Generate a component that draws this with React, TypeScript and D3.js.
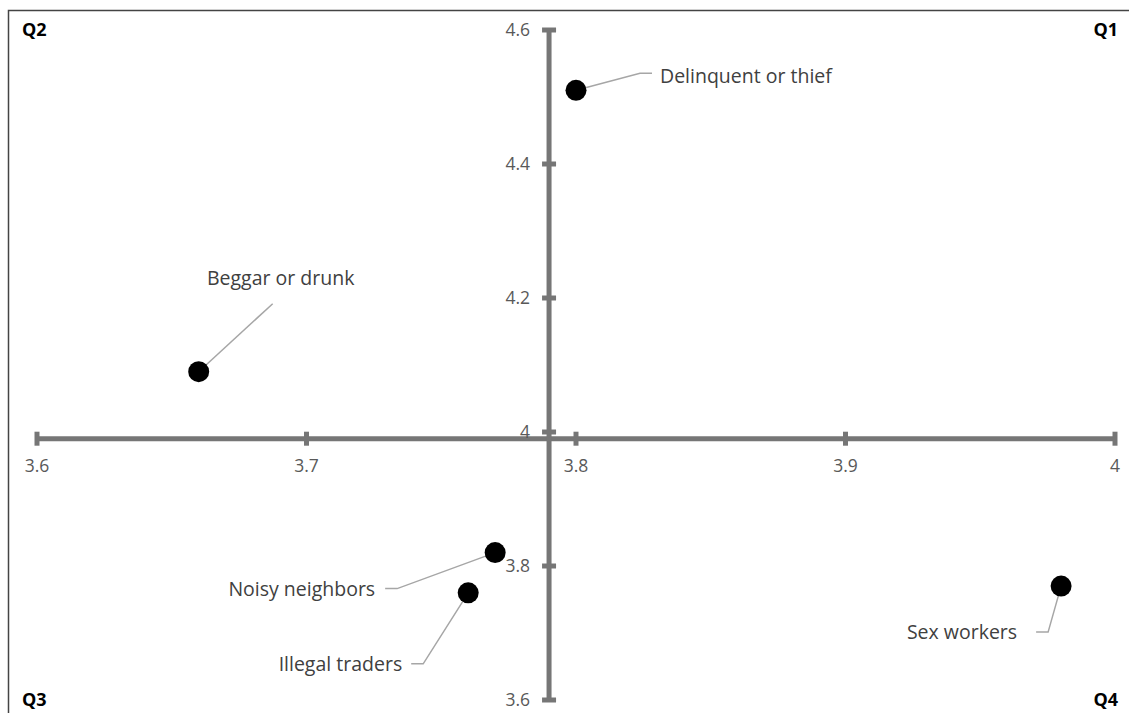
import React from "react";
import * as d3 from "d3";

// ---- data ----
const groups = ["Delinquent or thief", "Beggar or drunk", "Noisy neighbors", "Illegal traders", "Sex workers"];
const xValues = [3.8, 3.66, 3.77, 3.76, 3.98];
const yValues = [4.51, 4.09, 3.82, 3.76, 3.77];
const xTicks = [3.6, 3.7, 3.8, 3.9, 4.0];
const yTicks = [3.6, 3.8, 4.0, 4.2, 4.4, 4.6];
const xCross = 3.79; // vertical axis crosses here
const yCross = 3.99; // horizontal axis crosses here
const quadrants = ["Q1", "Q2", "Q3", "Q4"];

// ---- label layout (pixel offsets from the point) ----
// lx,ly: label anchor; ex,ey: elbow of leader; sx: stub end x
const labelLayout = [
  { lx: 84, ly: -14, anchor: "start", ex: 64, ey: -17, sx: 76 },
  { lx: 82, ly: -94, anchor: "middle", ex: 74, ey: -68, sx: 74 },
  { lx: -120, ly: 36, anchor: "end", ex: -98, ey: 36, sx: -110 },
  { lx: -66, ly: 71, anchor: "end", ex: -45, ey: 71, sx: -57 },
  { lx: -44, ly: 46, anchor: "end", ex: -13, ey: 46, sx: -25 },
];

const W = 1129;
const H = 713;
const axisColor = "#767676";
const font = "'Open Sans', 'Noto Sans', sans-serif";

export default function App() {
  const x = d3.scaleLinear().domain([3.6, 4.0]).range([37, 1115]);
  const y = d3.scaleLinear().domain([3.6, 4.6]).range([700, 30]);
  const ax = x(xCross);
  const ay = y(yCross);
  const fmt = d3.format("");
  const tl = (v: number) => fmt(+v.toFixed(1));

  const pts = groups.map((g, i) => ({ g, cx: x(xValues[i]), cy: y(yValues[i]), L: labelLayout[i] }));

  return (
    <svg
      width={W}
      height={H}
      style={{ position: "absolute", left: 0, top: 0, background: "#fff" }}
      fontFamily={font}
    >
      <rect x={8.5} y={10.5} width={1200} height={800} fill="#fff" stroke="#444" strokeWidth={1.5} />

      {/* horizontal axis */}
      <line x1={x(3.6)} x2={x(4.0)} y1={ay} y2={ay} stroke={axisColor} strokeWidth={5} />
      {xTicks.map((t) => (
        <g key={"xt" + t}>
          <line x1={x(t)} x2={x(t)} y1={ay - 7} y2={ay + 7} stroke={axisColor} strokeWidth={5} />
          <text x={x(t)} y={ay + 33} textAnchor="middle" fontSize={17.5} fill="#595959">
            {tl(t)}
          </text>
        </g>
      ))}

      {/* vertical axis */}
      <line x1={ax} x2={ax} y1={y(4.6)} y2={y(3.6)} stroke={axisColor} strokeWidth={5} />
      {yTicks.map((t) => (
        <g key={"yt" + t}>
          <line x1={ax - 7} x2={ax + 7} y1={y(t)} y2={y(t)} stroke={axisColor} strokeWidth={5} />
          <text x={ax - 19} y={y(t) + 6} textAnchor="end" fontSize={17.5} fill="#595959">
            {tl(t)}
          </text>
        </g>
      ))}

      {/* leader lines */}
      {pts.map((p) => (
        <polyline
          key={"ll" + p.g}
          points={`${p.cx},${p.cy} ${p.cx + p.L.ex},${p.cy + p.L.ey} ${p.cx + p.L.sx},${p.cy + p.L.ey}`}
          fill="none"
          stroke="#a6a6a6"
          strokeWidth={1.5}
        />
      ))}

      {/* points */}
      {pts.map((p) => (
        <circle key={"pt" + p.g} cx={p.cx} cy={p.cy} r={10.5} fill="#000" />
      ))}

      {/* data labels */}
      {pts.map((p) => (
        <text
          key={"lb" + p.g}
          x={p.cx + p.L.lx}
          y={p.cy + p.L.ly + 7}
          textAnchor={p.L.anchor as any}
          fontSize={19.5}
          fill="#404040"
        >
          {p.g}
        </text>
      ))}

      {/* quadrant labels */}
      <text x={1118} y={36} textAnchor="end" fontSize={18} fontWeight="bold" fill="#000">{quadrants[0]}</text>
      <text x={22} y={36} textAnchor="start" fontSize={18} fontWeight="bold" fill="#000">{quadrants[1]}</text>
      <text x={22} y={706} textAnchor="start" fontSize={18} fontWeight="bold" fill="#000">{quadrants[2]}</text>
      <text x={1118} y={706} textAnchor="end" fontSize={18} fontWeight="bold" fill="#000">{quadrants[3]}</text>
    </svg>
  );
}
